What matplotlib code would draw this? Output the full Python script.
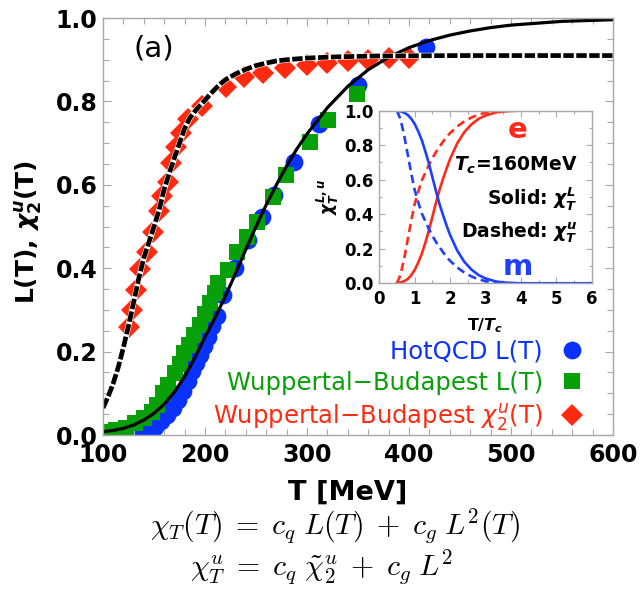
import matplotlib
matplotlib.use("Agg")
import matplotlib.pyplot as plt
from matplotlib.ticker import MultipleLocator

plt.rcParams.update({
    "font.family": "DejaVu Sans",
    "mathtext.fontset": "custom",
    "mathtext.rm": "DejaVu Sans:bold",
    "mathtext.it": "DejaVu Sans:italic:bold",
    "mathtext.bf": "DejaVu Sans:bold",
    "lines.scale_dashes": False,
})

# ---------------- lattice data ----------------
T_hotqcd = [139, 145, 151, 157, 163, 169, 174, 178, 183, 187, 191, 195, 199, 203,
            207, 212, 218, 229, 242, 256, 268, 287, 312, 350, 417]
L_hotqcd = [0.008, 0.012, 0.020, 0.033, 0.047, 0.065, 0.085, 0.106, 0.130, 0.153,
            0.172, 0.192, 0.214, 0.236, 0.262, 0.285, 0.335, 0.400, 0.468, 0.522,
            0.575, 0.655, 0.745, 0.840, 0.930]

T_wb = [104, 113, 123, 131, 140, 148, 153, 159, 164, 171, 175, 179, 184, 189, 195,
        200, 205, 210, 213, 223, 231, 241, 251, 267, 279, 303, 321, 349]
L_wb = [0.008, 0.012, 0.018, 0.028, 0.040, 0.056, 0.072, 0.100, 0.120, 0.148, 0.170,
        0.196, 0.216, 0.240, 0.264, 0.290, 0.316, 0.340, 0.364, 0.396, 0.440, 0.475,
        0.512, 0.571, 0.624, 0.703, 0.755, 0.819]

T_chi = [125, 128, 132, 136, 143, 149, 155, 158, 164, 167, 172, 176, 183, 197, 221,
         238, 257, 278, 300, 320, 340, 360, 380, 400]
chi2u_wb = [0.260, 0.300, 0.348, 0.397, 0.440, 0.487, 0.538, 0.573, 0.607, 0.652,
            0.690, 0.725, 0.757, 0.788, 0.835, 0.858, 0.869, 0.879, 0.887, 0.893,
            0.897, 0.899, 0.903, 0.905]

# ---------------- fitted curves ----------------
T_fit_L = [100, 110, 120, 130, 140, 150, 160, 170, 180, 190, 200, 210, 220, 230, 240,
           250, 260, 270, 280, 290, 300, 320, 340, 360, 380, 400, 420, 440, 460, 480,
           500, 550, 600]
L_fit = [0.008, 0.011, 0.016, 0.024, 0.036, 0.052, 0.074, 0.103, 0.140, 0.185, 0.235,
         0.282, 0.333, 0.388, 0.445, 0.500, 0.552, 0.600, 0.645, 0.686, 0.722, 0.785,
         0.836, 0.876, 0.906, 0.929, 0.946, 0.959, 0.969, 0.977, 0.983, 0.992, 0.996]

T_fit_chi = [100, 105, 110, 115, 120, 125, 130, 135, 140, 145, 150, 155, 160, 165, 170,
             175, 180, 185, 190, 195, 200, 205, 210, 215, 220, 230, 240, 250, 260, 270,
             280, 300, 330, 370, 450, 600]
chi_fit = [0.065, 0.092, 0.124, 0.163, 0.210, 0.262, 0.318, 0.375, 0.425, 0.462, 0.500,
           0.540, 0.590, 0.628, 0.665, 0.700, 0.735, 0.760, 0.776, 0.790, 0.803, 0.817,
           0.830, 0.842, 0.852, 0.866, 0.877, 0.886, 0.892, 0.897, 0.900, 0.904, 0.907,
           0.909, 0.910, 0.910]

# ---------------- inset: normalised weights vs T/Tc ----------------
t_ratio = [0.5, 0.6, 0.7, 0.8, 0.9, 1.0, 1.1, 1.2, 1.3, 1.4, 1.5, 1.6, 1.7, 1.8, 1.9,
           2.0, 2.2, 2.4, 2.6, 2.8, 3.0, 3.3, 3.6, 4.0, 5.0, 6.0]
e_solid = [0.0, 0.004, 0.012, 0.024, 0.046, 0.077, 0.12, 0.17, 0.235, 0.305, 0.385,
           0.465, 0.54, 0.605, 0.665, 0.72, 0.81, 0.875, 0.92, 0.952, 0.972, 0.99,
           0.997, 1.0, 1.0, 1.0]
e_dashed = [0.0, 0.05, 0.14, 0.25, 0.36, 0.46, 0.53, 0.595, 0.64, 0.685, 0.725, 0.76,
            0.79, 0.82, 0.848, 0.87, 0.908, 0.938, 0.96, 0.977, 0.988, 0.997, 1.0,
            1.0, 1.0, 1.0]
m_solid = [1.0, 0.996, 0.988, 0.976, 0.954, 0.923, 0.88, 0.83, 0.765, 0.695, 0.615,
           0.535, 0.46, 0.395, 0.335, 0.28, 0.19, 0.125, 0.08, 0.048, 0.028, 0.01,
           0.003, 0.0, 0.0, 0.0]
m_dashed = [1.0, 0.95, 0.86, 0.75, 0.64, 0.54, 0.47, 0.405, 0.36, 0.315, 0.275, 0.24,
            0.21, 0.18, 0.152, 0.13, 0.092, 0.062, 0.04, 0.023, 0.012, 0.003, 0.0,
            0.0, 0.0, 0.0]

x_ticks = [100, 200, 300, 400, 500, 600]
x_tick_labels = ["100", "200", "300", "400", "500", "600"]
y_ticks = [0.0, 0.2, 0.4, 0.6, 0.8, 1.0]
y_tick_labels = ["0.0", "0.2", "0.4", "0.6", "0.8", "1.0"]
in_x_ticks = [0, 1, 2, 3, 4, 5, 6]
in_x_labels = ["0", "1", "2", "3", "4", "5", "6"]
in_y_ticks = [0.0, 0.2, 0.4, 0.6, 0.8, 1.0]
in_y_labels = ["0.0", "0.2", "0.4", "0.6", "0.8", "1.0"]

BLUE = "#0a32ff"
GREEN = "#08a008"
RED = "#ff2a10"
IN_RED = "#ff2a1a"
IN_BLUE = "#1f3fff"
FRAME = "#a8a8a8"

fig = plt.figure(figsize=(6.41, 5.93), dpi=100)
ax = fig.add_axes([0.1607, 0.2664, 0.7956, 0.7032])

ax.plot(T_hotqcd, L_hotqcd, "o", ms=12.8, color=BLUE, mew=0, label="HotQCD L(T)")
ax.plot(T_wb, L_wb, "s", ms=11, color=GREEN, mew=0, label="Wuppertal\u2212Budapest L(T)")
ax.plot(T_chi, chi2u_wb, "D", ms=11.5, color=RED, mew=0,
        label="Wuppertal\u2212Budapest " + r"$\chi_2^u$(T)")
ax.plot(T_fit_L, L_fit, "-", color="black", lw=2.3)
ax.plot(T_fit_chi, chi_fit, color="white", lw=4.2, solid_capstyle="butt")
ax.plot(T_fit_chi, chi_fit, color="black", lw=3.4, dashes=[7.5, 1.8])

ax.set_xlim(100, 600)
ax.set_ylim(0, 1)
ax.set_xticks(x_ticks)
ax.set_xticklabels(x_tick_labels, fontweight="bold", fontsize=17)
ax.set_yticks(y_ticks)
ax.set_yticklabels(y_tick_labels, fontweight="bold", fontsize=17)
ax.xaxis.set_minor_locator(MultipleLocator(20))
ax.yaxis.set_minor_locator(MultipleLocator(0.05))
ax.tick_params(which="both", direction="in", top=True, right=True, color=FRAME, width=0.8)
ax.tick_params(which="major", length=6)
ax.tick_params(which="minor", length=4)
ax.tick_params(axis="x", pad=6)
ax.tick_params(axis="y", pad=4)
for sp in ax.spines.values():
    sp.set_color(FRAME)
    sp.set_linewidth(1.0)

ax.text(0.1, 0.928, "(a)", transform=ax.transAxes, ha="center", va="center", fontsize=21)

leg = ax.legend(loc="lower right", bbox_to_anchor=(0.9625, -0.0185), markerfirst=False,
                frameon=False, fontsize=17.5, handlelength=1.0, handletextpad=0.7,
                labelspacing=0.3, borderaxespad=0.0)
for txt, c in zip(leg.get_texts(), [BLUE, GREEN, RED]):
    txt.set_color(c)
    txt.set_math_fontfamily("dejavusans")

fig.text(0.044, 0.609, r"L(T), $\chi_2^u$(T)", rotation=90, ha="center", va="center",
         fontsize=18, fontweight="bold")
fig.text(0.542, 0.169, "T [MeV]", ha="center", va="center", fontsize=19.5, fontweight="bold")

fig.text(0.5234, 0.098, r"$\chi_T(T) \;=\; c_q\; L(T) \;+\; c_g\; L^2(T)$", ha="center",
         va="baseline", fontsize=21.5, math_fontfamily="cm")
fig.text(0.5023, 0.030, r"$\chi_T^u \;=\; c_q\; \tilde{\chi}_2^u \;+\; c_g\; L^2$",
         ha="center", va="baseline", fontsize=21.5, math_fontfamily="cm")

# ---------------- inset ----------------
ins = fig.add_axes([0.5917, 0.5223, 0.3314, 0.2911])
ins.plot(t_ratio, e_solid, color=IN_RED, lw=1.9)
ins.plot(t_ratio, e_dashed, color=IN_RED, lw=1.9, dashes=[6, 3.5])
ins.plot(t_ratio, m_solid, color=IN_BLUE, lw=1.9)
ins.plot(t_ratio, m_dashed, color=IN_BLUE, lw=1.9, dashes=[6, 3.5])
ins.set_xlim(0, 6)
ins.set_ylim(0, 1)
ins.set_xticks(in_x_ticks)
ins.set_xticklabels(in_x_labels, fontweight="bold", fontsize=12)
ins.set_yticks(in_y_ticks)
ins.set_yticklabels(in_y_labels, fontweight="bold", fontsize=12)
ins.xaxis.set_minor_locator(MultipleLocator(0.5))
ins.yaxis.set_minor_locator(MultipleLocator(0.1))
ins.tick_params(which="both", direction="in", top=True, right=True, color=FRAME, width=0.8)
ins.tick_params(which="major", length=4)
ins.tick_params(which="minor", length=2.5)
ins.tick_params(axis="x", pad=5)
ins.tick_params(axis="y", pad=4)
for sp in ins.spines.values():
    sp.set_color(FRAME)
    sp.set_linewidth(1.0)
ins.set_xlabel(r"T/$T_c$", fontsize=11.5, fontweight="bold", labelpad=6)
ins.set_ylabel(r"$\chi_T^{L,u}$", fontsize=12, fontweight="bold", labelpad=2)

ins.text(0.653, 0.888, "e", transform=ins.transAxes, ha="center", va="center",
         fontsize=21, fontweight="bold", color=IN_RED)
ins.text(0.653, 0.095, "m", transform=ins.transAxes, ha="center", va="center",
         fontsize=21, fontweight="bold", color=IN_BLUE)
ins.text(0.935, 0.685, r"$T_c$=160MeV", transform=ins.transAxes, ha="right",
         va="center", fontsize=13.5, fontweight="bold")
ins.text(0.935, 0.494, r"Solid: $\chi_T^L$", transform=ins.transAxes, ha="right",
         va="center", fontsize=13.5, fontweight="bold")
ins.text(0.935, 0.291, r"Dashed: $\chi_T^u$", transform=ins.transAxes, ha="right",
         va="center", fontsize=13.5, fontweight="bold")

fig.savefig("out.png", dpi=100)
